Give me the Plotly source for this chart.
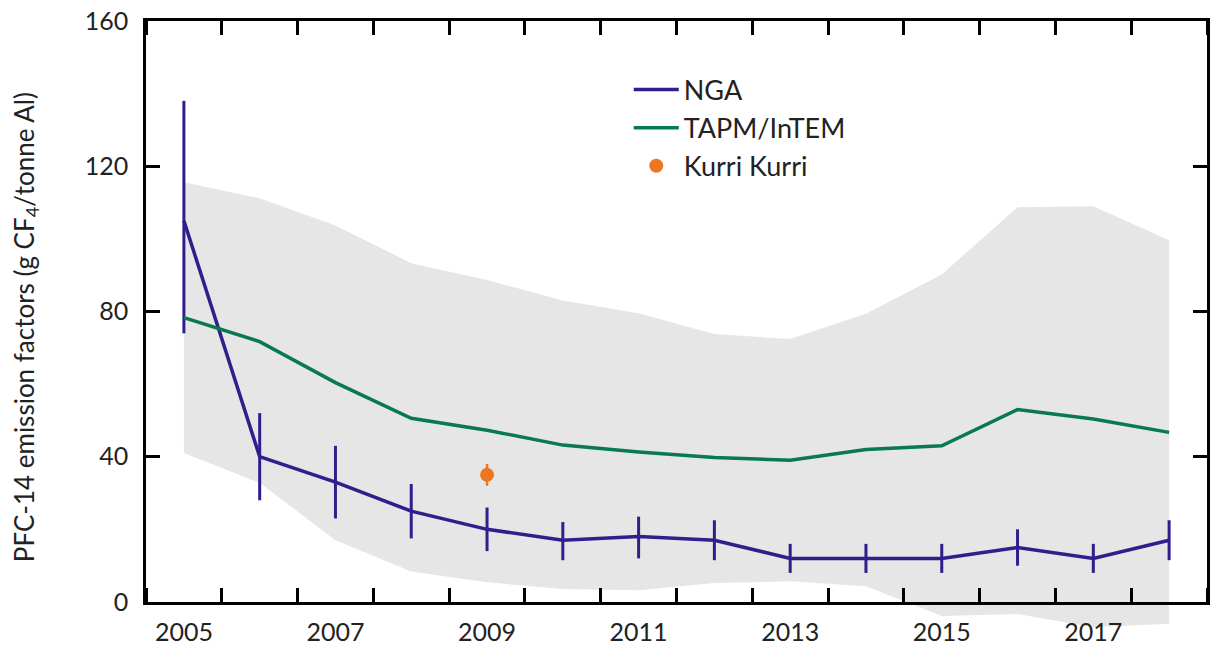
import plotly.graph_objects as go

# Years and series
years = list(range(2005, 2019))

nga = [105, 40, 33, 25, 20, 17, 18, 17, 12, 12, 12, 15, 12, 17]
nga_err_plus = [33, 12, 10, 7.5, 6, 5, 5.5, 5.5, 4, 4, 4, 5, 4, 5.5]
nga_err_minus = [31, 12, 10, 7.5, 6, 5.5, 6, 5.5, 4, 4, 4, 5, 4, 5.5]

tapm = [78.3, 71.7, 60.4, 50.6, 47.3, 43.2, 41.3, 39.8, 39.0, 42.0, 43.0, 53.0, 50.4, 46.7]
tapm_upper = [115.6, 111.2, 103.7, 93.3, 88.7, 83.0, 79.5, 73.8, 72.4, 79.4, 90.2, 108.7, 109.0, 99.6]
tapm_lower = [41.0, 32.8, 17.0, 8.4, 5.4, 3.6, 3.2, 5.2, 5.7, 4.3, -3.9, -3.3, -7.0, -6.0]

kurri_year = [2009]
kurri = [35]
kurri_err = [3]

xtick_vals = [2005, 2007, 2009, 2011, 2013, 2015, 2017]
ytick_vals = [0, 40, 80, 120, 160]

FONT = "Lato"
TXT = "#222222"
NGA_C = "#2E1F8C"
TAPM_C = "#087A4E"
KURRI_C = "#EB7722"
BAND_C = "#E6E6E6"

x_range = [2004.5, 2018.5]
y_lo = -8  # band subplot reaches a little below zero
y_range_main = [0, 160]

fig = go.Figure()

# Uncertainty band for TAPM/InTEM (own subplot underneath, so it can run below 0)
fig.add_trace(go.Scatter(
    x=years + years[::-1],
    y=tapm_upper + tapm_lower[::-1],
    fill="toself", fillcolor=BAND_C, line=dict(width=0, color=BAND_C),
    mode="lines", hoverinfo="skip", showlegend=False,
    xaxis="x", yaxis="y",
))

fig.add_trace(go.Scatter(
    x=years, y=nga, name="NGA", mode="lines",
    line=dict(color=NGA_C, width=3.5),
    error_y=dict(type="data", symmetric=False, array=nga_err_plus,
                 arrayminus=nga_err_minus, width=0, thickness=3, color=NGA_C),
    xaxis="x2", yaxis="y2",
))
fig.add_trace(go.Scatter(
    x=years, y=tapm, name="TAPM/InTEM", mode="lines",
    line=dict(color=TAPM_C, width=3.5),
    xaxis="x2", yaxis="y2",
))
fig.add_trace(go.Scatter(
    x=kurri_year, y=kurri, name="Kurri Kurri", mode="markers",
    marker=dict(color=KURRI_C, size=14),
    error_y=dict(type="data", array=kurri_err, width=0, thickness=2.5, color=KURRI_C),
    xaxis="x2", yaxis="y2",
))

frac0 = -y_lo / (160 - y_lo)

fig.update_layout(
    width=1210, height=645,
    margin=dict(l=146, r=3, t=21, b=14, autoexpand=False),
    paper_bgcolor="white", plot_bgcolor="rgba(0,0,0,0)",
    font=dict(family=FONT, color=TXT, size=25),
    xaxis=dict(domain=[0, 1], range=x_range, visible=False, anchor="y",
               automargin=False),
    yaxis=dict(domain=[0, 1], range=[y_lo, 160], visible=False, anchor="x",
               automargin=False),
    xaxis2=dict(
        domain=[0, 1], range=x_range, anchor="y2", automargin=False,
        showline=True, linecolor="black", linewidth=2.5, mirror="ticks",
        tickvals=xtick_vals, ticktext=[str(v) for v in xtick_vals],
        ticks="", showgrid=False, zeroline=False, ticklabelstandoff=6,
        tickfont=dict(size=25, family=FONT, color=TXT),
        minor=dict(tick0=2005.5, dtick=1, ticks="inside", ticklen=14,
                   tickwidth=2.5, tickcolor="black", showgrid=False),
    ),
    yaxis2=dict(
        domain=[frac0, 1], range=y_range_main, anchor="x2", automargin=False,
        showline=True, linecolor="black", linewidth=2.5, mirror="ticks",
        tickvals=ytick_vals, ticks="inside", ticklen=14, tickwidth=2.5,
        tickcolor="black", showgrid=False, zeroline=False, ticklabelstandoff=10,
        tickfont=dict(size=25, family=FONT, color=TXT),
    ),
    legend=dict(
        x=0.455, y=0.927, xanchor="left", yanchor="top",
        bgcolor="rgba(0,0,0,0)", borderwidth=0,
        font=dict(size=27, family=FONT, color=TXT),
        tracegroupgap=0, itemwidth=45,
    ),
    showlegend=True,
)

fig.add_annotation(
    text="PFC-14 emission factors (g CF<sub>4</sub>/tonne Al)",
    textangle=-90, xref="paper", yref="paper",
    x=(25 - 146) / 1061, y=0.498, xanchor="center", yanchor="middle",
    showarrow=False, font=dict(size=26, family=FONT, color=TXT),
)

fig.write_html("out.html")
